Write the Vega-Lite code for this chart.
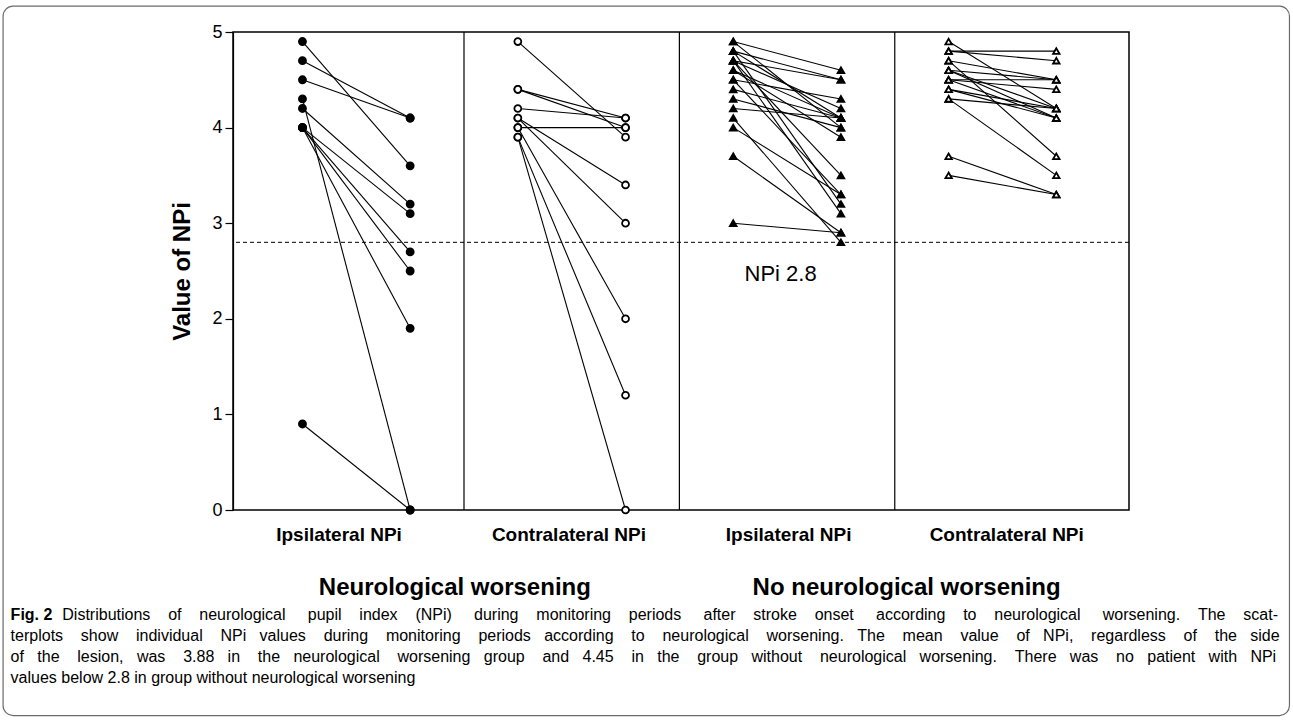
{
  "$schema": "https://vega.github.io/schema/vega-lite/v6.json",
  "width": 896,
  "height": 478,
  "autosize": {"type": "none"},
  "padding": {"left": 233, "top": 32, "right": 164, "bottom": 210},
  "background": "white",
  "config": {
    "view": {"stroke": "black", "strokeWidth": 1.5},
    "font": "Liberation Sans",
    "text": {"font": "Liberation Sans", "color": "black"}
  },
  "data": {"values": [{}]},
  "datasets": {
    "npi": [
      {"group": "A", "pid": "A1", "col": 1, "npi": 4.9}, {"group": "A", "pid": "A1", "col": 3, "npi": 3.6},
      {"group": "A", "pid": "A2", "col": 1, "npi": 4.7}, {"group": "A", "pid": "A2", "col": 3, "npi": 4.1},
      {"group": "A", "pid": "A3", "col": 1, "npi": 4.5}, {"group": "A", "pid": "A3", "col": 3, "npi": 4.1},
      {"group": "A", "pid": "A4", "col": 1, "npi": 4.3}, {"group": "A", "pid": "A4", "col": 3, "npi": 0},
      {"group": "A", "pid": "A5", "col": 1, "npi": 4.2}, {"group": "A", "pid": "A5", "col": 3, "npi": 3.2},
      {"group": "A", "pid": "A6", "col": 1, "npi": 4.0}, {"group": "A", "pid": "A6", "col": 3, "npi": 3.1},
      {"group": "A", "pid": "A7", "col": 1, "npi": 4.0}, {"group": "A", "pid": "A7", "col": 3, "npi": 2.7},
      {"group": "A", "pid": "A8", "col": 1, "npi": 4.0}, {"group": "A", "pid": "A8", "col": 3, "npi": 2.5},
      {"group": "A", "pid": "A9", "col": 1, "npi": 4.0}, {"group": "A", "pid": "A9", "col": 3, "npi": 1.9},
      {"group": "A", "pid": "A10", "col": 1, "npi": 0.9}, {"group": "A", "pid": "A10", "col": 3, "npi": 0},

      {"group": "B", "pid": "B1", "col": 5, "npi": 4.9}, {"group": "B", "pid": "B1", "col": 7, "npi": 3.9},
      {"group": "B", "pid": "B2", "col": 5, "npi": 4.4}, {"group": "B", "pid": "B2", "col": 7, "npi": 4.1},
      {"group": "B", "pid": "B3", "col": 5, "npi": 4.4}, {"group": "B", "pid": "B3", "col": 7, "npi": 4.0},
      {"group": "B", "pid": "B4", "col": 5, "npi": 4.2}, {"group": "B", "pid": "B4", "col": 7, "npi": 4.1},
      {"group": "B", "pid": "B5", "col": 5, "npi": 4.0}, {"group": "B", "pid": "B5", "col": 7, "npi": 4.0},
      {"group": "B", "pid": "B6", "col": 5, "npi": 4.1}, {"group": "B", "pid": "B6", "col": 7, "npi": 3.4},
      {"group": "B", "pid": "B7", "col": 5, "npi": 4.1}, {"group": "B", "pid": "B7", "col": 7, "npi": 3.0},
      {"group": "B", "pid": "B8", "col": 5, "npi": 4.0}, {"group": "B", "pid": "B8", "col": 7, "npi": 2.0},
      {"group": "B", "pid": "B9", "col": 5, "npi": 3.9}, {"group": "B", "pid": "B9", "col": 7, "npi": 1.2},
      {"group": "B", "pid": "B10", "col": 5, "npi": 3.9}, {"group": "B", "pid": "B10", "col": 7, "npi": 0},

      {"group": "C", "pid": "C1", "col": 9, "npi": 4.9}, {"group": "C", "pid": "C1", "col": 11, "npi": 4.6},
      {"group": "C", "pid": "C2", "col": 9, "npi": 4.9}, {"group": "C", "pid": "C2", "col": 11, "npi": 4.0},
      {"group": "C", "pid": "C3", "col": 9, "npi": 4.8}, {"group": "C", "pid": "C3", "col": 11, "npi": 4.5},
      {"group": "C", "pid": "C4", "col": 9, "npi": 4.8}, {"group": "C", "pid": "C4", "col": 11, "npi": 4.1},
      {"group": "C", "pid": "C5", "col": 9, "npi": 4.8}, {"group": "C", "pid": "C5", "col": 11, "npi": 3.2},
      {"group": "C", "pid": "C6", "col": 9, "npi": 4.7}, {"group": "C", "pid": "C6", "col": 11, "npi": 4.5},
      {"group": "C", "pid": "C7", "col": 9, "npi": 4.7}, {"group": "C", "pid": "C7", "col": 11, "npi": 4.2},
      {"group": "C", "pid": "C8", "col": 9, "npi": 4.7}, {"group": "C", "pid": "C8", "col": 11, "npi": 3.1},
      {"group": "C", "pid": "C9", "col": 9, "npi": 4.7}, {"group": "C", "pid": "C9", "col": 11, "npi": 3.5},
      {"group": "C", "pid": "C10", "col": 9, "npi": 4.6}, {"group": "C", "pid": "C10", "col": 11, "npi": 4.1},
      {"group": "C", "pid": "C11", "col": 9, "npi": 4.6}, {"group": "C", "pid": "C11", "col": 11, "npi": 3.9},
      {"group": "C", "pid": "C12", "col": 9, "npi": 4.5}, {"group": "C", "pid": "C12", "col": 11, "npi": 4.3},
      {"group": "C", "pid": "C13", "col": 9, "npi": 4.5}, {"group": "C", "pid": "C13", "col": 11, "npi": 3.3},
      {"group": "C", "pid": "C14", "col": 9, "npi": 4.4}, {"group": "C", "pid": "C14", "col": 11, "npi": 4.1},
      {"group": "C", "pid": "C15", "col": 9, "npi": 4.3}, {"group": "C", "pid": "C15", "col": 11, "npi": 4.0},
      {"group": "C", "pid": "C16", "col": 9, "npi": 4.2}, {"group": "C", "pid": "C16", "col": 11, "npi": 4.1},
      {"group": "C", "pid": "C17", "col": 9, "npi": 4.1}, {"group": "C", "pid": "C17", "col": 11, "npi": 2.8},
      {"group": "C", "pid": "C18", "col": 9, "npi": 4.0}, {"group": "C", "pid": "C18", "col": 11, "npi": 3.3},
      {"group": "C", "pid": "C19", "col": 9, "npi": 3.7}, {"group": "C", "pid": "C19", "col": 11, "npi": 2.9},
      {"group": "C", "pid": "C20", "col": 9, "npi": 3.0}, {"group": "C", "pid": "C20", "col": 11, "npi": 2.9},

      {"group": "D", "pid": "D1", "col": 13, "npi": 4.9}, {"group": "D", "pid": "D1", "col": 15, "npi": 4.2},
      {"group": "D", "pid": "D2", "col": 13, "npi": 4.8}, {"group": "D", "pid": "D2", "col": 15, "npi": 4.8},
      {"group": "D", "pid": "D3", "col": 13, "npi": 4.8}, {"group": "D", "pid": "D3", "col": 15, "npi": 4.7},
      {"group": "D", "pid": "D4", "col": 13, "npi": 4.7}, {"group": "D", "pid": "D4", "col": 15, "npi": 4.5},
      {"group": "D", "pid": "D5", "col": 13, "npi": 4.7}, {"group": "D", "pid": "D5", "col": 15, "npi": 3.7},
      {"group": "D", "pid": "D6", "col": 13, "npi": 4.6}, {"group": "D", "pid": "D6", "col": 15, "npi": 4.5},
      {"group": "D", "pid": "D7", "col": 13, "npi": 4.6}, {"group": "D", "pid": "D7", "col": 15, "npi": 4.1},
      {"group": "D", "pid": "D8", "col": 13, "npi": 4.6}, {"group": "D", "pid": "D8", "col": 15, "npi": 4.2},
      {"group": "D", "pid": "D9", "col": 13, "npi": 4.5}, {"group": "D", "pid": "D9", "col": 15, "npi": 4.5},
      {"group": "D", "pid": "D10", "col": 13, "npi": 4.5}, {"group": "D", "pid": "D10", "col": 15, "npi": 4.1},
      {"group": "D", "pid": "D11", "col": 13, "npi": 4.5}, {"group": "D", "pid": "D11", "col": 15, "npi": 4.4},
      {"group": "D", "pid": "D12", "col": 13, "npi": 4.4}, {"group": "D", "pid": "D12", "col": 15, "npi": 4.2},
      {"group": "D", "pid": "D13", "col": 13, "npi": 4.4}, {"group": "D", "pid": "D13", "col": 15, "npi": 4.1},
      {"group": "D", "pid": "D14", "col": 13, "npi": 4.3}, {"group": "D", "pid": "D14", "col": 15, "npi": 4.2},
      {"group": "D", "pid": "D15", "col": 13, "npi": 4.3}, {"group": "D", "pid": "D15", "col": 15, "npi": 3.5},
      {"group": "D", "pid": "D16", "col": 13, "npi": 3.7}, {"group": "D", "pid": "D16", "col": 15, "npi": 3.3},
      {"group": "D", "pid": "D17", "col": 13, "npi": 3.5}, {"group": "D", "pid": "D17", "col": 15, "npi": 3.3}
    ]
  },
  "layer": [
    {
      "data": {"name": "npi"},
      "mark": {"type": "line", "color": "black", "strokeWidth": 1.1},
      "encoding": {
        "x": {
          "field": "col", "type": "quantitative",
          "scale": {"domain": [-0.29, 16.35], "nice": false, "zero": false},
          "axis": {
            "values": [1.67, 5.94, 10.02, 14.07],
            "labelExpr": "datum.value < 4 ? 'Ipsilateral NPi' : datum.value < 8 ? 'Contralateral NPi' : datum.value < 12 ? 'Ipsilateral NPi' : 'Contralateral NPi'",
            "ticks": false, "domain": false, "grid": false, "title": null,
            "labelFontSize": 19, "labelFontWeight": "bold", "labelColor": "black",
            "labelFont": "Liberation Sans", "labelPadding": 15, "labelFlush": false, "labelOverlap": false
          }
        },
        "y": {
          "field": "npi", "type": "quantitative",
          "scale": {"domain": [0, 5], "nice": false, "zero": false},
          "axis": {
            "values": [0, 1, 2, 3, 4, 5], "format": "d", "grid": false,
            "tickSize": 8, "tickColor": "black", "tickWidth": 1.2,
            "domainColor": "black", "domainWidth": 1.2,
            "labelFontSize": 18, "labelColor": "black", "labelFont": "Liberation Sans", "labelPadding": 3,
            "title": "Value of NPi", "titleFontSize": 24, "titleFontWeight": "bold", "titleColor": "black",
            "titleFont": "Liberation Sans", "titlePadding": 17
          }
        },
        "detail": {"field": "pid"}
      }
    },
    {
      "data": {"name": "npi"},
      "mark": {"type": "point", "filled": true, "stroke": "black", "strokeWidth": 1.8, "opacity": 1},
      "encoding": {
        "x": {"field": "col", "type": "quantitative"},
        "y": {"field": "npi", "type": "quantitative"},
        "shape": {"field": "group", "type": "nominal", "scale": {"domain": ["A", "B", "C", "D"], "range": ["circle", "circle", "triangle-up", "triangle-up"]}, "legend": null},
        "fill": {"field": "group", "type": "nominal", "scale": {"domain": ["A", "B", "C", "D"], "range": ["black", "white", "black", "white"]}, "legend": null},
        "size": {"field": "group", "type": "nominal", "scale": {"domain": ["A", "B", "C", "D"], "range": [50, 42, 70, 62]}, "legend": null}
      }
    },
    {
      "mark": {"type": "rule", "color": "black", "strokeWidth": 1.2},
      "encoding": {"x": {"datum": 4, "type": "quantitative"}}
    },
    {
      "mark": {"type": "rule", "color": "black", "strokeWidth": 1.2},
      "encoding": {"x": {"datum": 8, "type": "quantitative"}}
    },
    {
      "mark": {"type": "rule", "color": "black", "strokeWidth": 1.2},
      "encoding": {"x": {"datum": 12, "type": "quantitative"}}
    },
    {
      "mark": {"type": "rule", "color": "black", "strokeWidth": 1, "strokeDash": [4, 3]},
      "encoding": {"y": {"datum": 2.8, "type": "quantitative"}}
    },
    {
      "mark": {"type": "rect", "fill": null, "stroke": "#6b6b6b", "strokeWidth": 1.2, "cornerRadius": 10},
      "encoding": {
        "x": {"datum": -4.56, "type": "quantitative"},
        "x2": {"datum": 19.33},
        "y": {"datum": 5.27, "type": "quantitative"},
        "y2": {"datum": -2.15}
      }
    },
    {
      "mark": {"type": "text", "text": "NPi 2.8", "fontSize": 22, "align": "center", "baseline": "middle"},
      "encoding": {"x": {"datum": 9.88, "type": "quantitative"}, "y": {"datum": 2.47, "type": "quantitative"}}
    },
    {
      "mark": {"type": "text", "text": "Neurological worsening", "fontSize": 24, "fontWeight": "bold", "align": "center", "baseline": "middle"},
      "encoding": {"x": {"datum": 3.83, "type": "quantitative"}, "y": {"datum": -0.82, "type": "quantitative"}}
    },
    {
      "mark": {"type": "text", "text": "No neurological worsening", "fontSize": 24, "fontWeight": "bold", "align": "center", "baseline": "middle"},
      "encoding": {"x": {"datum": 12.22, "type": "quantitative"}, "y": {"datum": -0.82, "type": "quantitative"}}
    },
    {
      "mark": {"type": "text", "text": "Fig. 2", "fontSize": 16, "fontWeight": "bold", "align": "left", "baseline": "alphabetic"},
      "encoding": {"x": {"datum": -4.42, "type": "quantitative"}, "y": {"datum": -1.147, "type": "quantitative"}}
    },
    {
      "mark": {"type": "text", "text": "Distributions\u00a0\u00a0\u00a0\u00a0of\u00a0\u00a0\u00a0\u00a0neurological\u00a0\u00a0\u00a0\u00a0\u00a0pupil\u00a0\u00a0\u00a0\u00a0index\u00a0\u00a0\u00a0\u00a0(NPi)\u00a0\u00a0\u00a0\u00a0\u00a0during\u00a0\u00a0\u00a0\u00a0monitoring\u00a0\u00a0\u00a0\u00a0periods\u00a0\u00a0\u00a0\u00a0\u00a0after\u00a0\u00a0\u00a0\u00a0stroke\u00a0\u00a0\u00a0\u00a0onset\u00a0\u00a0\u00a0\u00a0\u00a0according\u00a0\u00a0\u00a0\u00a0to\u00a0\u00a0\u00a0\u00a0neurological\u00a0\u00a0\u00a0\u00a0\u00a0worsening.\u00a0\u00a0\u00a0\u00a0The\u00a0\u00a0\u00a0\u00a0scat-", "fontSize": 16, "align": "left", "baseline": "alphabetic", "dx": 51.7},
      "encoding": {"x": {"datum": -4.42, "type": "quantitative"}, "y": {"datum": -1.147, "type": "quantitative"}}
    },
    {
      "mark": {"type": "text", "text": "terplots\u00a0\u00a0\u00a0\u00a0show\u00a0\u00a0\u00a0\u00a0individual\u00a0\u00a0\u00a0\u00a0NPi\u00a0\u00a0\u00a0values\u00a0\u00a0\u00a0\u00a0during\u00a0\u00a0\u00a0\u00a0monitoring\u00a0\u00a0\u00a0\u00a0periods\u00a0\u00a0\u00a0according\u00a0\u00a0\u00a0\u00a0to\u00a0\u00a0\u00a0\u00a0neurological\u00a0\u00a0\u00a0\u00a0worsening.\u00a0\u00a0\u00a0The\u00a0\u00a0\u00a0\u00a0mean\u00a0\u00a0\u00a0\u00a0value\u00a0\u00a0\u00a0\u00a0of\u00a0\u00a0\u00a0NPi,\u00a0\u00a0\u00a0\u00a0regardless\u00a0\u00a0\u00a0\u00a0of\u00a0\u00a0\u00a0\u00a0the\u00a0\u00a0\u00a0side", "fontSize": 16, "align": "left", "baseline": "alphabetic"},
      "encoding": {"x": {"datum": -4.42, "type": "quantitative"}, "y": {"datum": -1.369, "type": "quantitative"}}
    },
    {
      "mark": {"type": "text", "text": "of\u00a0\u00a0\u00a0the\u00a0\u00a0\u00a0\u00a0lesion,\u00a0\u00a0\u00a0was\u00a0\u00a0\u00a0\u00a03.88\u00a0\u00a0\u00a0in\u00a0\u00a0\u00a0\u00a0the\u00a0\u00a0\u00a0neurological\u00a0\u00a0\u00a0\u00a0worsening\u00a0\u00a0\u00a0group\u00a0\u00a0\u00a0\u00a0and\u00a0\u00a0\u00a04.45\u00a0\u00a0\u00a0\u00a0in\u00a0\u00a0\u00a0the\u00a0\u00a0\u00a0\u00a0group\u00a0\u00a0\u00a0without\u00a0\u00a0\u00a0\u00a0neurological\u00a0\u00a0\u00a0worsening.\u00a0\u00a0\u00a0\u00a0There\u00a0\u00a0\u00a0was\u00a0\u00a0\u00a0\u00a0no\u00a0\u00a0\u00a0patient\u00a0\u00a0\u00a0with\u00a0\u00a0\u00a0NPi", "fontSize": 16, "align": "left", "baseline": "alphabetic"},
      "encoding": {"x": {"datum": -4.42, "type": "quantitative"}, "y": {"datum": -1.592, "type": "quantitative"}}
    },
    {
      "mark": {"type": "text", "text": "values below 2.8 in group without neurological worsening", "fontSize": 16, "align": "left", "baseline": "alphabetic"},
      "encoding": {"x": {"datum": -4.42, "type": "quantitative"}, "y": {"datum": -1.814, "type": "quantitative"}}
    }
  ]
}
